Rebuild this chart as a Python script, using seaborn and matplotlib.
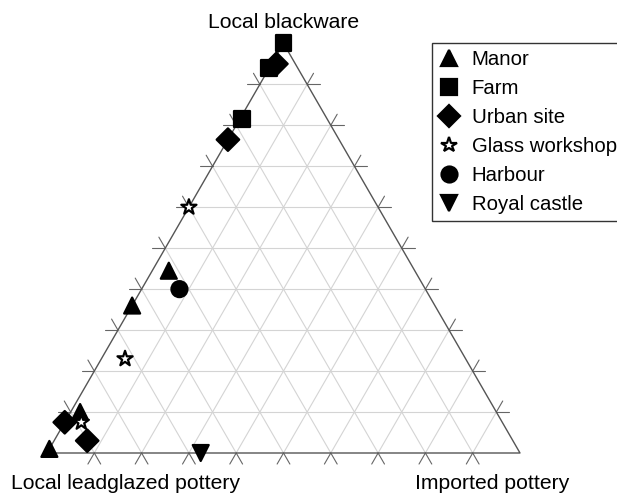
import numpy as np
import pandas as pd
import matplotlib
matplotlib.use("Agg")
import matplotlib.pyplot as plt
import seaborn as sns

# ternary composition (%) of each assemblage
site = ["Manor", "Manor", "Manor", "Manor",
        "Farm", "Farm", "Farm",
        "Urban site", "Urban site", "Urban site", "Urban site",
        "Glass workshop", "Glass workshop", "Glass workshop",
        "Harbour",
        "Royal castle"]
leadglazed = [99, 88, 64, 52, 0, 6, 18, 4, 23.5, 92.5, 90, 40, 72, 89, 52, 67.5]
imported = [0, 2, 0, 3.5, 0, 0, 0.5, 1, 0, 0, 7, 0, 5, 3.5, 8, 32.5]
blackware = [1, 10, 36, 44.5, 100, 94, 81.5, 95, 76.5, 7.5, 3, 60, 23, 7.5, 40, 0]

site_order = ["Manor", "Farm", "Urban site", "Glass workshop", "Harbour", "Royal castle"]
site_markers = {"Manor": "^", "Farm": "s", "Urban site": "D",
                "Glass workshop": "*", "Harbour": "o", "Royal castle": "v"}
site_fill = {s: "black" for s in site_order}
site_fill["Glass workshop"] = "white"

axis_labels = ["Local leadglazed pottery", "Imported pottery", "Local blackware"]

H = np.sqrt(3) / 2

df = pd.DataFrame({"site": site, "A": leadglazed, "B": imported, "C": blackware})
tot = df[["A", "B", "C"]].sum(axis=1)
df["x"] = (df["B"] + df["C"] / 2) / tot
df["y"] = df["C"] / tot * H

sns.set_style("white")
plt.rcParams["font.family"] = ["Liberation Sans", "DejaVu Sans"]
plt.rcParams["text.color"] = "black"

fig = plt.figure(figsize=(6.17, 4.94), dpi=100)
ax = fig.add_axes([0, 0, 1, 1])
ax.set_xlim(-47 / 473, 570 / 473)
ax.set_ylim(-41 / 473, 453 / 473)
ax.set_aspect("equal")
ax.axis("off")

# grid + outward ticks (grid lines run a little past the border)
tick = 0.027
grid_col = "#d4d4d4"
tick_col = "#666666"
for i in range(1, 10):
    f = i / 10
    segs = [
        ((f / 2, f * H), (1 - f / 2, f * H)),              # blackware = f
        ((f, 0), (f + (1 - f) / 2, (1 - f) * H)),          # imported = f
        ((1 - f, 0), ((1 - f) / 2, (1 - f) * H)),          # leadglazed = f
    ]
    for (x0, y0), (x1, y1) in segs:
        ax.plot([x0, x1], [y0, y1], color=grid_col, lw=0.8, zorder=1)
        d = np.array([x1 - x0, y1 - y0])
        d = d / np.linalg.norm(d) * tick
        ax.plot([x0, x0 - d[0]], [y0, y0 - d[1]], color=tick_col, lw=0.8, zorder=1)
        ax.plot([x1, x1 + d[0]], [y1, y1 + d[1]], color=tick_col, lw=0.8, zorder=1)

ax.plot([0, 1, 0.5, 0], [0, 0, H, 0], color="#555555", lw=1.0, zorder=2)

sns.scatterplot(data=df, x="x", y="y", hue="site", style="site",
                hue_order=site_order, style_order=site_order,
                palette=site_fill, markers=site_markers,
                s=132, edgecolor="black", linewidth=1.6, zorder=3, ax=ax)

ax.text(0.5, 0.8985, axis_labels[2], ha="center", va="baseline", fontsize=15.2)
ax.text(0.165, -0.0761, axis_labels[0], ha="center", va="baseline", fontsize=15.2)
ax.text(0.941, -0.0761, axis_labels[1], ha="center", va="baseline", fontsize=15.2)

leg = ax.legend(loc="upper left", bbox_to_anchor=(432 / 617, 1 - 43 / 494),
                bbox_transform=fig.transFigure, borderaxespad=0,
                frameon=True, fancybox=False, fontsize=14.7,
                handletextpad=0.6, labelspacing=0.49, borderpad=0.35,
                handlelength=1.0)
leg.get_frame().set_edgecolor("black")
leg.get_frame().set_linewidth(1.0)

fig.savefig("out.png", dpi=100)
